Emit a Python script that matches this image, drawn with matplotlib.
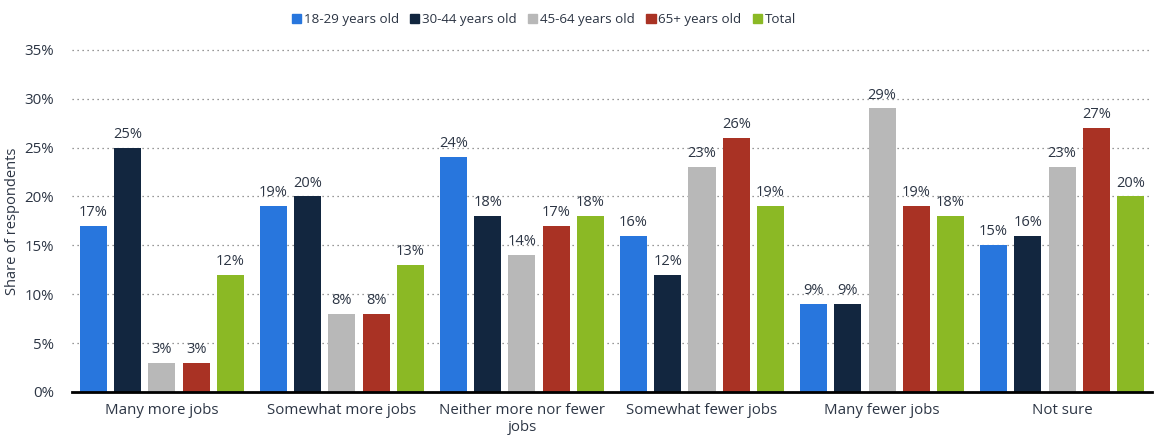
import numpy as np
import matplotlib.pyplot as plt
from matplotlib.patches import Patch

plt.rcParams['font.family'] = ['Open Sans', 'DejaVu Sans']

categories = ["Many more jobs", "Somewhat more jobs", "Neither more nor fewer\njobs",
              "Somewhat fewer jobs", "Many fewer jobs", "Not sure"]
series_names = ["18-29 years old", "30-44 years old", "45-64 years old", "65+ years old", "Total"]
age_18_29 = [17, 19, 24, 16, 9, 15]
age_30_44 = [25, 20, 18, 12, 9, 16]
age_45_64 = [3, 8, 14, 23, 29, 23]
age_65_up = [3, 8, 17, 26, 19, 27]
total = [12, 13, 18, 19, 18, 20]
yticks = [0, 5, 10, 15, 20, 25, 30, 35]

colors = ["#2876dd", "#12263f", "#b8b8b8", "#a93224", "#8bb925"]
series = [age_18_29, age_30_44, age_45_64, age_65_up, total]
text_color = "#2c3544"

fig = plt.figure(figsize=(11.57, 4.37), dpi=100)
ax = fig.add_axes([0.0622, 0.103, 0.9335, 0.783])

x = np.arange(len(categories))
step, width = 0.19, 0.15
for i, (vals, c) in enumerate(zip(series, colors)):
    pos = x + (i - 2) * step
    ax.bar(pos, vals, width=width, color=c, zorder=3)
    for p, v in zip(pos, vals):
        ax.text(p, v + 0.6, f"{v}%", ha="center", va="bottom", fontsize=10.5, color=text_color)

ax.set_xlim(-0.5, len(categories) - 0.5)
ax.set_ylim(0, 35)
ax.set_yticks(yticks)
ax.set_yticklabels([f"{t}%" for t in yticks])
ax.set_xticks(x)
ax.set_xticklabels(categories, linespacing=1.15)
ax.tick_params(axis="both", length=0, labelsize=10.8, labelcolor=text_color)
ax.tick_params(axis="y", pad=13)
ax.tick_params(axis="x", pad=8)
ax.yaxis.grid(True, linestyle=(0, (1, 3)), color="#777777", linewidth=0.9, zorder=0)
for ln in ax.get_ygridlines():
    ln.set_clip_on(False)
for s in ["top", "right", "left"]:
    ax.spines[s].set_visible(False)
ax.spines["bottom"].set_linewidth(2)
ax.spines["bottom"].set_color("black")
ax.spines["bottom"].set_zorder(4)
ax.set_ylabel("Share of respondents", fontsize=10.5, color=text_color)
ax.yaxis.set_label_coords(-0.048, 0.5)

handles = [Patch(color=c) for c in colors]
fig.legend(handles, series_names, loc="center", bbox_to_anchor=(0.47, 0.955), ncol=5,
           frameon=False, fontsize=9.6, handlelength=0.7, handleheight=0.7,
           handletextpad=0.2, columnspacing=0.85, labelcolor=text_color)

fig.savefig("out.png", dpi=100)
